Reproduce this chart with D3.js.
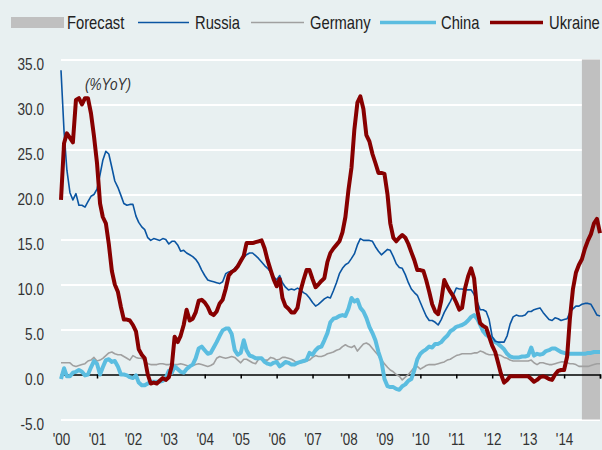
<!DOCTYPE html>
<html><head><meta charset="utf-8">
<script src="https://cdn.jsdelivr.net/npm/d3@7"></script>
<style>
html,body{margin:0;padding:0;background:#e8f0f1;}
svg{display:block;font-family:'Liberation Sans',Arial,sans-serif;}
</style></head><body><svg id="c" width="602" height="450"></svg>
<script>
// Monthly YoY inflation, Jan 2000 .. Jan 2015
const startYear = 2000, startMonth = 0;
const yearTicks = [2000,2001,2002,2003,2004,2005,2006,2007,2008,2009,2010,2011,2012,2013,2014,2015];
const yearLabels = ["'00","'01","'02","'03","'04","'05","'06","'07","'08","'09","'10","'11","'12","'13","'14",""];
const yTicks = [-5,0,5,10,15,20,25,30,35];
const forecastFrom = [2014, 6];
const forecastTo = [2015, 0];
const seriesNames = ["Russia","Germany","China","Ukraine"];

const ukraine = [
19.4,25.7,26.8,26.3,25.8,30.5,30.7,30.0,30.7,30.7,29.0,26.5,
23.5,19.0,17.5,16.8,14.5,11.5,10.0,9.2,7.5,6.1,6.1,6.0,
5.5,4.8,2.8,2.2,1.8,0.0,-1.0,-0.9,-1.0,-0.7,-0.4,-0.6,
-0.3,1.0,4.2,3.6,4.3,5.5,7.2,6.0,6.2,6.9,8.2,8.3,
8.0,7.5,6.8,6.6,7.0,7.9,8.3,9.5,11.0,11.4,11.6,12.0,
12.6,13.2,14.6,14.6,14.6,14.7,14.8,14.9,14.0,12.7,11.6,10.6,
9.8,10.6,8.5,7.6,7.3,6.9,6.9,7.4,9.3,10.5,11.6,11.6,
10.6,9.7,10.0,10.4,10.7,12.5,13.5,14.0,14.4,14.8,15.8,17.5,
20.5,23.0,27.2,30.2,30.9,29.5,26.6,25.9,24.5,23.5,22.4,22.4,
22.3,20.0,16.8,15.2,14.8,15.2,15.5,15.2,14.5,13.6,12.7,11.6,
11.6,11.5,10.5,9.2,7.8,7.0,6.7,8.2,10.5,9.8,9.2,8.7,
8.0,7.2,7.4,9.6,10.9,11.8,10.7,7.2,5.7,5.4,5.2,4.2,
3.2,2.5,1.3,0.0,-0.9,-0.6,-0.2,-0.2,-0.2,-0.2,-0.2,-0.2,
-0.2,-0.5,-0.8,-0.6,-0.3,-0.2,-0.3,-0.5,-0.6,0.0,0.4,0.5,
0.5,2.0,6.2,9.5,11.3,12.2,12.8,14.0,14.9,15.6,16.8,17.3,
15.7];

const russia = [
33.8,27.0,22.7,20.2,19.4,20.1,18.8,18.8,18.6,19.2,19.8,20.0,
20.6,22.2,23.8,24.8,24.5,23.0,21.5,20.8,19.9,19.0,18.8,18.9,
18.9,17.6,16.9,16.4,16.1,15.2,14.9,15.1,15.0,14.9,15.1,15.0,
14.5,14.8,14.8,14.4,13.7,13.8,13.5,13.3,13.1,12.8,12.3,11.6,
11.0,10.5,10.4,10.3,10.2,10.1,10.3,11.2,11.4,11.5,11.8,12.2,
12.6,13.0,13.3,13.5,13.5,13.2,12.9,12.5,12.1,11.8,11.4,10.9,
10.5,11.0,10.2,9.7,9.4,9.5,9.4,9.6,9.4,9.1,8.9,8.5,
8.0,7.6,7.8,8.1,8.4,8.6,8.5,9.3,10.2,11.2,11.8,12.2,
12.4,12.9,13.4,14.4,15.1,14.9,14.9,14.9,14.8,14.2,13.7,13.3,
13.6,13.9,13.8,13.1,12.3,11.9,11.8,11.1,10.2,9.5,9.1,8.8,
8.0,7.2,6.5,6.0,6.0,5.8,5.5,6.1,6.9,7.5,8.1,8.8,
9.6,9.5,9.5,9.4,9.4,9.4,8.9,8.1,7.2,7.2,7.0,6.1,
4.2,3.7,3.6,3.6,3.6,4.3,5.6,6.4,6.6,6.5,6.5,6.6,
7.0,7.0,7.2,7.3,7.4,6.9,6.5,6.1,6.0,6.3,6.2,6.0,
6.1,6.2,6.9,7.3,7.6,7.6,7.8,7.9,7.9,7.8,7.2,6.6,
6.5];

const china = [
-0.5,0.7,-0.2,-0.2,0.2,0.3,0.5,0.3,-0.1,0.0,0.8,1.5,
1.2,0.0,0.8,1.6,1.7,1.4,1.5,0.9,0.0,0.0,-0.1,-0.3,
-0.4,-0.1,-0.9,-1.2,-1.2,-1.0,-0.8,-0.8,-0.8,-0.8,-0.7,-0.4,
0.4,0.2,0.9,0.6,0.3,0.2,0.6,0.9,1.1,1.8,2.9,3.1,
2.7,2.3,2.4,3.0,3.6,4.3,4.9,5.1,5.1,4.5,2.7,2.2,
2.4,3.8,2.7,2.1,2.0,1.8,1.8,1.8,1.4,1.2,1.1,1.3,
1.4,0.9,1.1,1.4,1.3,1.1,1.1,1.3,1.4,1.5,1.6,2.4,
2.2,2.7,3.0,3.1,3.8,4.6,5.8,6.2,6.3,6.5,6.6,6.5,
7.3,8.5,8.1,8.3,7.4,7.0,6.3,5.3,4.6,3.8,2.5,1.5,
-0.5,-1.3,-1.4,-1.4,-1.6,-1.7,-1.3,-1.1,-0.7,-0.5,0.5,1.7,
2.3,2.6,2.8,3.1,3.0,3.4,3.4,3.6,4.0,4.3,4.8,5.0,
5.3,5.4,5.5,5.7,6.0,6.4,6.6,6.2,5.5,4.8,4.4,4.2,
4.0,3.6,3.4,3.1,2.8,2.3,2.0,1.9,1.9,1.9,2.0,2.0,
2.1,3.0,2.1,2.3,2.2,2.3,2.6,2.7,2.9,2.9,2.7,2.5,
2.4,2.3,2.3,2.3,2.3,2.3,2.3,2.3,2.4,2.4,2.5,2.5,
2.5];

const germany = [
1.3,1.3,1.3,1.3,1.0,0.9,1.0,1.1,1.2,1.5,1.6,1.9,
1.5,1.6,1.8,2.1,2.4,2.5,2.3,2.2,2.2,2.0,1.8,1.6,
2.1,1.9,1.8,1.8,1.5,1.2,1.1,1.1,1.1,1.2,1.2,1.1,
1.1,1.2,1.1,1.1,1.2,1.1,1.0,0.9,1.0,1.1,1.2,1.1,
1.0,0.9,1.0,1.2,1.8,2.0,1.9,1.8,1.9,2.0,1.9,1.6,
1.3,1.7,1.7,1.5,1.3,1.2,1.7,1.8,1.6,1.6,1.9,1.8,
1.6,1.7,1.9,1.9,1.8,1.7,1.5,1.2,1.3,1.4,1.5,1.6,
1.9,2.1,2.0,2.0,2.1,2.3,2.4,2.5,2.7,2.8,3.1,3.3,
3.1,3.0,3.2,2.6,3.0,3.4,3.5,3.3,2.9,2.5,2.1,1.6,
1.2,0.8,0.5,0.3,0.0,-0.2,-0.6,-0.3,0.0,0.4,0.8,0.9,
0.6,0.8,1.0,1.1,1.1,1.1,1.2,1.3,1.4,1.6,1.7,1.9,
2.1,2.2,2.3,2.3,2.3,2.3,2.4,2.4,2.6,2.5,2.3,2.2,
2.2,2.2,2.2,2.1,1.9,1.8,1.6,1.5,1.5,1.5,1.5,1.5,
1.5,1.6,1.3,1.1,1.3,1.3,1.2,1.1,1.1,1.2,1.3,1.4,
1.4,1.3,1.2,1.2,1.1,0.9,0.9,0.9,0.9,1.0,1.1,1.2,
1.2];

const svg = d3.select("#c");
const x = d3.scaleTime().domain([new Date(2000,0,1), new Date(2015,0,1)]).range([61, 600]);
const y = d3.scaleLinear().domain([-5, 35]).range([419.5, 59.5]);
const dateOf = i => new Date(startYear, startMonth + i, 1);

// horizontally condense a text around its anchor x
function condense(sel, s) {
  sel.each(function() {
    const t = d3.select(this);
    const tx = +t.attr("x") || 0;
    t.attr("transform", `translate(${tx*(1-s)},0) scale(${s},1)`);
  });
}

// grid + y labels
const yAxis = svg.append("g").attr("transform", "translate(61,0)")
  .call(d3.axisLeft(y).tickValues(yTicks).tickSize(-(x.range()[1]-x.range()[0])).tickPadding(17)
    .tickFormat(d => d.toFixed(1)));
yAxis.select(".domain").remove();
yAxis.selectAll(".tick line").attr("stroke", "#ffffff").attr("stroke-width", 2);
yAxis.selectAll(".tick").filter(d => d === 0).select("line").remove();
yAxis.selectAll("text").attr("fill", "#333").attr("font-size", 17).attr("dy", 9.5).call(condense, 0.8);

// forecast band
const f0 = x(new Date(forecastFrom[0], forecastFrom[1], 1));
const f1 = x(new Date(forecastTo[0], forecastTo[1], 1));
svg.append("rect").attr("x", f0).attr("y", y(35)).attr("width", f1 - f0)
  .attr("height", y(-5) - y(35)).attr("fill", "#c0c0c0");

// x axis at zero
const xAxis = svg.append("g").attr("transform", `translate(0,${y(0)})`)
  .call(d3.axisBottom(x).tickValues(yearTicks.map(yr => new Date(yr,0,1))).tickSize(4)
    .tickFormat((d,i) => yearLabels[i]));
xAxis.select(".domain").attr("stroke", "#000").attr("stroke-width", 1.5);
xAxis.selectAll(".tick line").attr("stroke", "#000").attr("stroke-width", 1.5);
xAxis.selectAll("text").attr("fill", "#333").attr("font-size", 16).attr("y", 71).attr("dy", 0).call(condense, 0.84);

const line = d3.line().x((d,i) => x(dateOf(i))).y(d => y(d));
const styles = {
  Germany: {data: germany, color: "#a0a0a0", w: 1.6},
  China: {data: china, color: "#5bbde0", w: 4},
  Russia: {data: russia, color: "#0a55a2", w: 1.6},
  Ukraine: {data: ukraine, color: "#870000", w: 4}
};
["Germany","China","Russia","Ukraine"].forEach(n => {
  svg.append("path").datum(styles[n].data).attr("d", line)
    .attr("fill", "none").attr("stroke", styles[n].color).attr("stroke-width", styles[n].w)
    .attr("stroke-linejoin", "round");
});

// unit label
svg.append("text").attr("x", 85).attr("y", 90).attr("font-size", 16).attr("font-style", "italic")
  .attr("fill", "#333").text("(%YoY)").call(condense, 0.85);

// legend
const lg = svg.append("g");
lg.append("rect").attr("x", 11).attr("y", 17).attr("width", 53).attr("height", 11).attr("fill", "#c0c0c0");
lg.append("text").attr("x", 67).attr("y", 29).attr("font-size", 18).attr("fill", "#222").text("Forecast").call(condense, 0.82);
const legendItems = [
  {n: "Russia", x1: 138, x2: 189, tx: 195},
  {n: "Germany", x1: 251, x2: 304, tx: 310},
  {n: "China", x1: 380, x2: 436, tx: 441},
  {n: "Ukraine", x1: 490, x2: 543, tx: 549}
];
legendItems.forEach(it => {
  lg.append("line").attr("x1", it.x1).attr("x2", it.x2).attr("y1", 22.5).attr("y2", 22.5)
    .attr("stroke", styles[it.n].color).attr("stroke-width", styles[it.n].w === 4 ? 3.5 : 1.6);
  lg.append("text").attr("x", it.tx).attr("y", 29).attr("font-size", 18).attr("fill", "#222").text(it.n).call(condense, 0.82);
});
</script></body></html>
